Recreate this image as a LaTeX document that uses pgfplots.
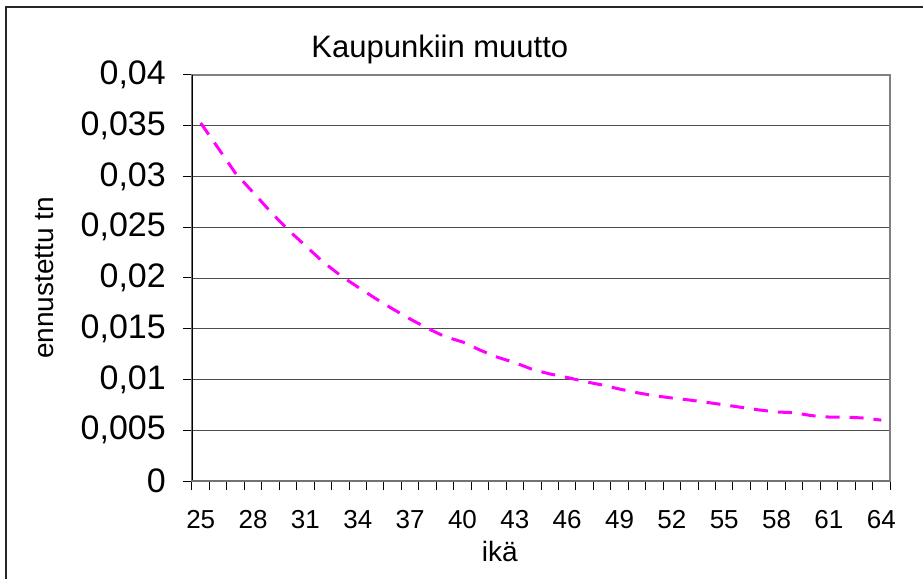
\documentclass[border=0pt]{standalone}
\usepackage{pgfplots}
\pgfplotsset{compat=1.18}
\usepackage{fontspec}
\setmainfont{Liberation Sans}
\definecolor{plotborder}{HTML}{808080}
\definecolor{curve}{HTML}{FF00FF}

\begin{document}
\begin{tikzpicture}
\useasboundingbox (-192bp,-98bp) rectangle (731bp,481bp);
% outer chart frame (only left and top edges are inside the picture)
\draw[black!85, line width=2bp] (-186bp,-98bp) -- (-186bp,474bp) -- (731bp,474bp);
\begin{axis}[
  at={(0,0)}, anchor=south west,
  scale only axis, width=698bp, height=406bp,
  xmin=24.5, xmax=64.5, ymin=0, ymax=0.04,
  axis line style={draw=plotborder, line width=2bp},
  tick align=outside, xtick pos=bottom, ytick pos=left,
  major tick length=9bp,
  tick style={black, line width=1bp},
  xtick={24.5,25.5,...,64.5}, xticklabels={},
  extra x ticks={25,28,31,34,37,40,43,46,49,52,55,58,61,64},
  extra x tick labels={25,28,31,34,37,40,43,46,49,52,55,58,61,64},
  extra x tick style={major tick length=0pt, grid=none,
    xticklabel style={anchor=north, inner sep=0pt, yshift=-29bp,
      font=\fontsize{26bp}{31bp}\selectfont}},
  ytick={0,0.005,0.01,0.015,0.02,0.025,0.03,0.035,0.04},
  yticklabels={0,{0,005},{0,01},{0,015},{0,02},{0,025},{0,03},{0,035},{0,04}},
  scaled y ticks=false,
  yticklabel style={anchor=east, inner sep=0pt, xshift=-17bp,
    font=\fontsize{34bp}{40bp}\selectfont},
  ymajorgrids, grid style={black!70, line width=0.8bp},
  title={Kaupunkiin muutto},
  title style={at={(axis description cs:0.355,1)}, anchor=base, inner sep=0pt,
    yshift=12bp, font=\fontsize{31bp}{37bp}\selectfont},
  xlabel={ikä},
  xlabel style={at={(axis description cs:0.441,0)}, anchor=base, inner sep=0pt,
    yshift=-80bp, font=\fontsize{28bp}{34bp}\selectfont},
  ylabel={ennustettu tn},
  ylabel style={at={(axis description cs:-0.199,0.5)}, anchor=base, inner sep=0pt,
    font=\fontsize{28bp}{34bp}\selectfont},
]
\addplot[curve, line width=3bp, dash pattern=on 14bp off 10bp] coordinates {
  (25,0.03527) (26,0.0328) (27,0.0303) (28,0.02844) (29,0.02653)
  (30,0.02476) (31,0.02318) (32,0.0216) (33,0.02026) (34,0.01911)
  (35,0.0180) (36,0.01695) (37,0.01596) (38,0.01504) (39,0.01422)
  (40,0.0137) (41,0.0129) (42,0.0122) (43,0.01166) (44,0.0110)
  (45,0.01055) (46,0.0102) (47,0.0098) (48,0.00946) (49,0.00906)
  (50,0.0087) (51,0.0084) (52,0.00818) (53,0.00798) (54,0.00775)
  (55,0.0075) (56,0.00725) (57,0.0070) (58,0.0068) (59,0.00673)
  (60,0.00644) (61,0.0063) (62,0.0063) (63,0.0062) (64,0.0060)
};
\draw[black, line width=1.6bp] (rel axis cs:0,0) -- (rel axis cs:0,1);
\draw[black!55, line width=2bp] (rel axis cs:0,0) -- (rel axis cs:1,0);
\end{axis}
\end{tikzpicture}
\end{document}
